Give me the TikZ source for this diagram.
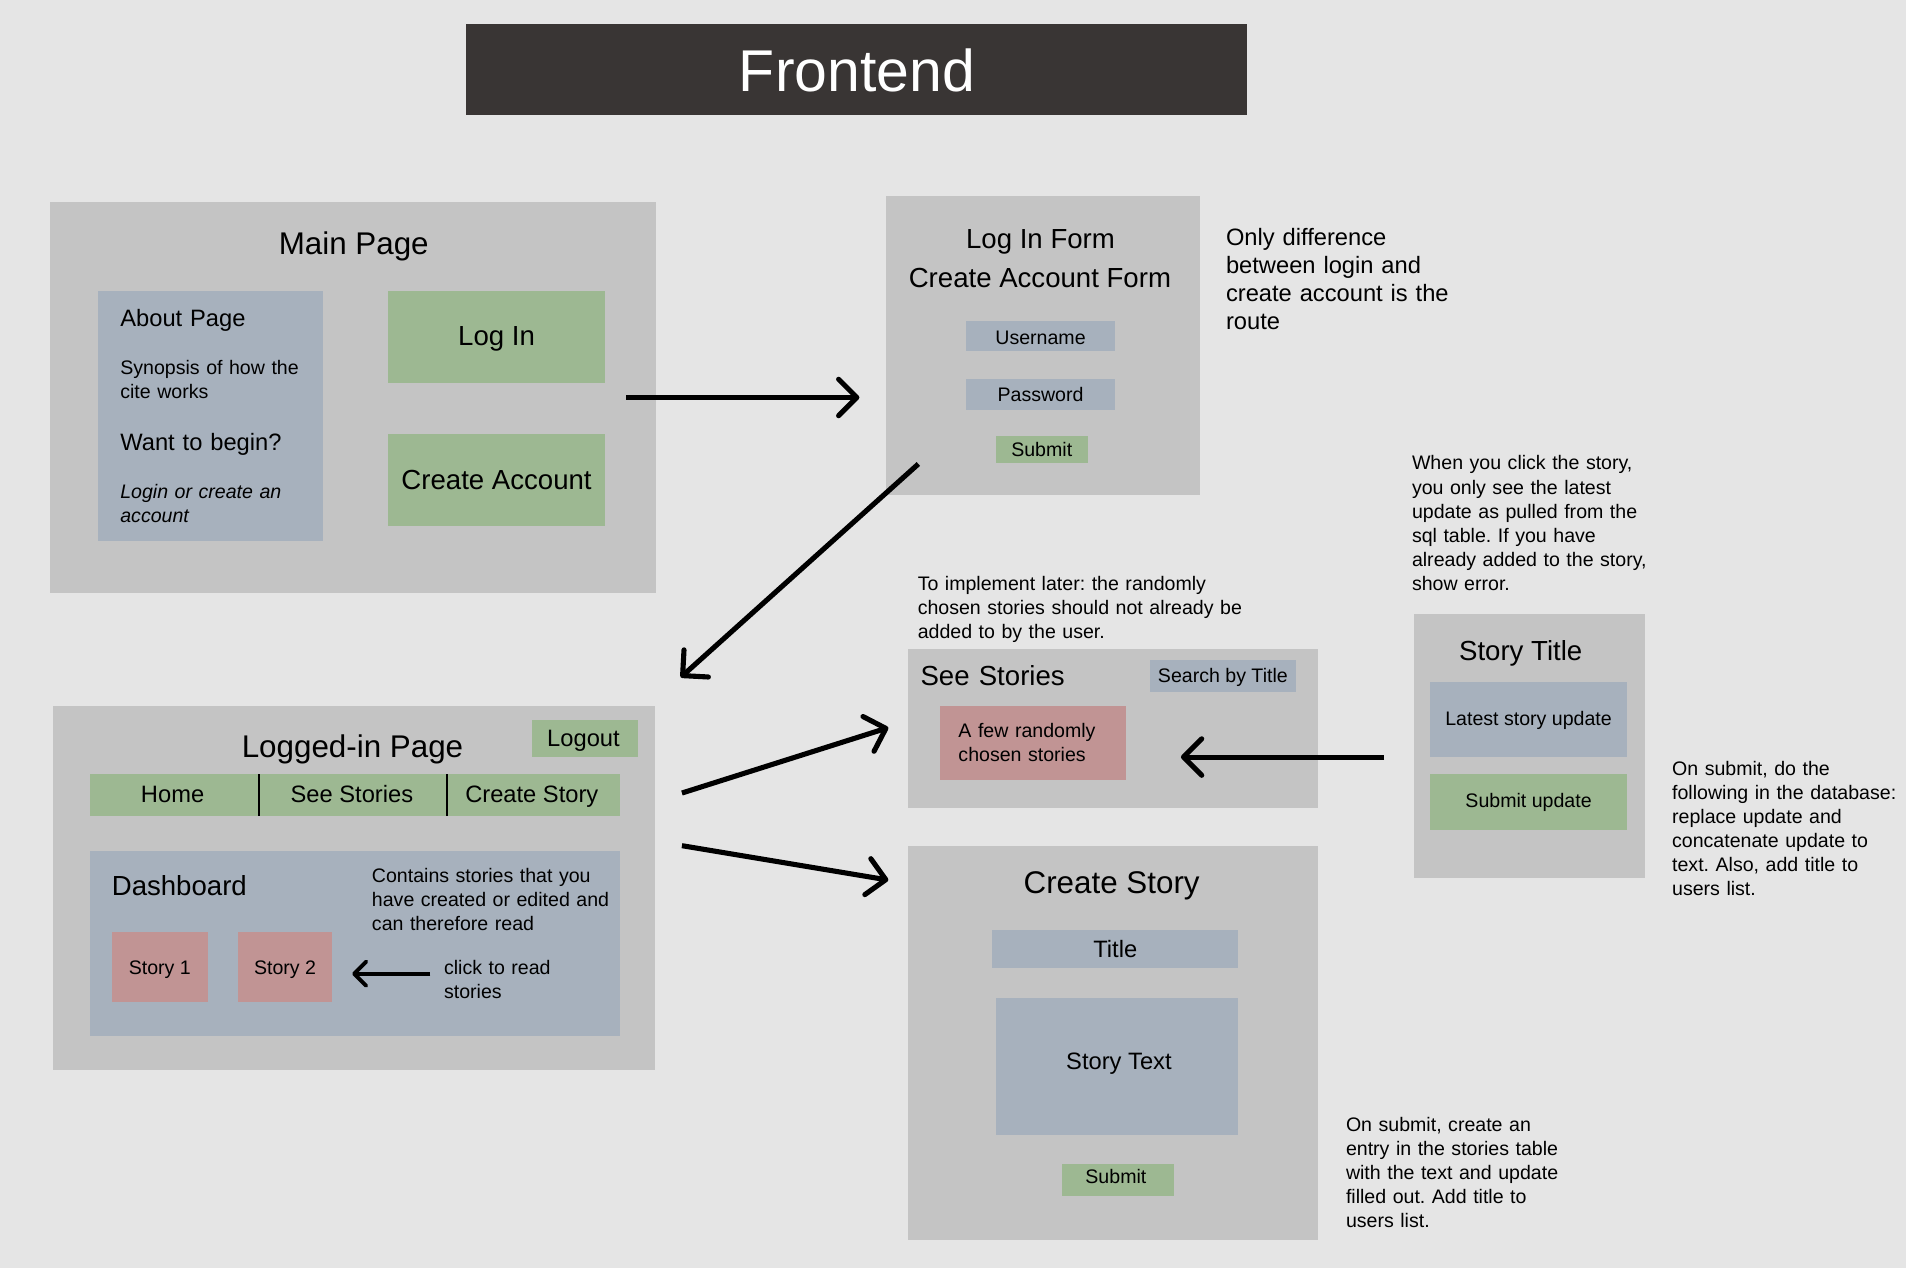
\documentclass[tikz,border=0pt]{standalone}
\usepackage{fontspec}
\setmainfont{Liberation Sans}
\usetikzlibrary{arrows.meta}
\frenchspacing
\definecolor{bg}{HTML}{E5E5E5}
\definecolor{panel}{HTML}{C4C4C4}
\definecolor{bluebox}{HTML}{A7B1BD}
\definecolor{greenbox}{HTML}{9DB892}
\definecolor{pinkbox}{HTML}{C19494}
\definecolor{darkbar}{HTML}{393534}
\newcommand\fSm{\fontsize{16.1}{19.8}\selectfont}
\newcommand\fMd{\fontsize{19.5}{22.9}\selectfont}
\newcommand\fLg{\fontsize{22.7}{32}\selectfont}
\newcommand\fTi{\fontsize{25.8}{30}\selectfont}
\newcommand\fHu{\fontsize{48.5}{56}\selectfont}
\begin{document}
\begin{tikzpicture}[x=1pt,y=-1pt,
  box/.style={inner sep=0pt, outer sep=0pt, anchor=north west},
  panelbox/.style={box, fill=panel},
  bluebx/.style={box, fill=bluebox},
  greenbx/.style={box, fill=greenbox},
  pinkbx/.style={box, fill=pinkbox},
  txt/.style={inner sep=0pt, outer sep=0pt, anchor=base, text=black},
  ltxt/.style={inner sep=0pt, outer sep=0pt, anchor=base west, text width=330pt, align=left, text=black},
  bigarrow/.style={line width=4.2pt, -{Straight Barb[length=15pt, width=30pt, round]}},
  smallarrow/.style={line width=3.2pt, -{Straight Barb[length=10pt, width=20pt, round]}},
  sep/.style={line width=1.5pt, black}
]
% background
\fill[bg] (0,0) rectangle (1568,1043.1);
\useasboundingbox (0,0) rectangle (1568,1043.1);

% title bar
\node[box, fill=darkbar, minimum width=643pt, minimum height=75pt] (titlebar) at (383,20) {};
\node[txt, text=white, font=\fHu] (titletext) at (705,75.4) {Frontend};

% Main page
\node[panelbox, minimum width=499pt, minimum height=322pt] (mainpage) at (41,166) {};
\node[txt, font=\fTi] (mainT) at (291,209) {Main Page};
\node[bluebx, minimum width=185pt, minimum height=206pt] (about) at (81,239) {};
\node[ltxt, font=\fMd] (aboutT) at (99,268.7) {About Page};
\node[ltxt, font=\fSm] (synop) at (99,307.9) {Synopsis of how the\\cite works};
\node[ltxt, font=\fMd] (want) at (99,370.2) {Want to begin?};
\node[ltxt, font=\fSm\itshape] (logor) at (99,410) {Login or create an\\account};
\node[greenbx, minimum width=179pt, minimum height=76pt] (loginbtn) at (319,239) {};
\node[txt, font=\fLg] (loginT) at (408.5,284.4) {Log In};
\node[greenbx, minimum width=179pt, minimum height=76pt] (createbtn) at (319,357) {};
\node[txt, font=\fLg] (createT) at (408.5,403) {Create Account};

% Log in form
\node[panelbox, minimum width=258pt, minimum height=246pt] (loginform) at (729,161) {};
\node[txt, font=\fLg] (lfT1) at (856,204.3) {Log In Form};
\node[txt, font=\fLg] (lfT2) at (855.5,236.4) {Create Account Form};
\node[bluebx, minimum width=122pt, minimum height=25pt] (userbox) at (795,264) {};
\node[txt, font=\fSm] (userT) at (856,283) {Username};
\node[bluebx, minimum width=122pt, minimum height=25pt] (passbox) at (795,312) {};
\node[txt, font=\fSm] (passT) at (856,330.4) {Password};
\node[greenbx, minimum width=76pt, minimum height=22pt] (lfsubmit) at (819,359) {};
\node[txt, font=\fSm] (lfsubT) at (857,375.2) {Submit};
\node[ltxt, font=\fMd] (note1) at (1008.6,202.1) {Only difference\\between login and\\create account is the\\route};

% Logged-in page
\node[panelbox, minimum width=495pt, minimum height=299pt] (loggedin) at (44,581) {};
\node[txt, font=\fTi] (loggedT) at (290,623.3) {Logged-in Page};
\node[greenbx, minimum width=87pt, minimum height=30pt] (logout) at (437.5,592.5) {};
\node[txt, font=\fMd] (logoutT) at (480,614.3) {Logout};
\node[greenbx, minimum width=139pt, minimum height=34pt] (navhome) at (74,637) {};
\node[greenbx, minimum width=154.5pt, minimum height=34pt] (navsee) at (213,637) {};
\node[greenbx, minimum width=142.5pt, minimum height=34pt] (navcreate) at (367.5,637) {};
\draw[sep] (navhome.north east) -- (navhome.south east);
\draw[sep] (navsee.north east) -- (navsee.south east);
\node[txt, font=\fMd] (homeT) at (142,660.3) {Home};
\node[txt, font=\fMd] (seeT) at (289.5,660.3) {See Stories};
\node[txt, font=\fMd] (crT) at (437.5,660.3) {Create Story};
\node[bluebx, minimum width=436pt, minimum height=152pt] (dash) at (74,700) {};
\node[ltxt, font=\fLg] (dashT) at (92,736.8) {Dashboard};
\node[ltxt, font=\fSm] (dashnote) at (306,725.9) {Contains stories that you\\have created or edited and\\can therefore read};
\node[pinkbx, minimum width=79pt, minimum height=57pt] (story1) at (92,767) {};
\node[txt, font=\fSm] (s1T) at (131.5,801.5) {Story 1};
\node[pinkbx, minimum width=77pt, minimum height=57pt] (story2) at (196,767) {};
\node[txt, font=\fSm] (s2T) at (234.5,801.5) {Story 2};
\node[ltxt, font=\fSm] (clicknote) at (365.3,801.3) {click to read\\stories};

% See stories
\node[ltxt, font=\fSm] (note2) at (755,485.9) {To implement later: the randomly\\chosen stories should not already be\\added to by the user.};
\node[panelbox, minimum width=337pt, minimum height=131pt] (seestories) at (747,533.5) {};
\node[ltxt, font=\fLg] (seeT2) at (757.3,564.1) {See Stories};
\node[bluebx, minimum width=120pt, minimum height=26pt] (search) at (946,543) {};
\node[txt, font=\fSm] (searchT) at (1006,561.3) {Search by Title};
\node[pinkbx, minimum width=153pt, minimum height=60.5pt] (random) at (773.5,581) {};
\node[ltxt, font=\fSm] (randomT) at (788.5,606.6) {A few randomly\\chosen stories};

% Story title
\node[ltxt, font=\fSm] (note3) at (1161.6,386.6) {When you click the story,\\you only see the latest\\update as pulled from the\\sql table. If you have\\already added to the story,\\show error.};
\node[panelbox, minimum width=190.5pt, minimum height=217pt] (storytitle) at (1163,505) {};
\node[txt, font=\fLg] (stT) at (1251,543) {Story Title};
\node[bluebx, minimum width=162pt, minimum height=62pt] (latest) at (1176.5,561) {};
\node[txt, font=\fSm] (latestT) at (1257.5,597) {Latest story update};
\node[greenbx, minimum width=162pt, minimum height=46pt] (subupd) at (1176.5,637) {};
\node[txt, font=\fSm] (subupdT) at (1257.5,664.4) {Submit update};
\node[ltxt, font=\fSm] (note4) at (1375.6,637.6) {On submit, do the\\following in the database:\\replace update and\\concatenate update to\\text. Also, add title to\\users list.};

% Create story
\node[panelbox, minimum width=337pt, minimum height=324pt] (createstory) at (747,696) {};
\node[txt, font=\fTi] (csT) at (914.5,734.9) {Create Story};
\node[bluebx, minimum width=202.5pt, minimum height=31pt] (titlebox) at (816,765) {};
\node[txt, font=\fMd] (titleT) at (917.5,787.8) {Title};
\node[bluebx, minimum width=199pt, minimum height=113pt] (textbox) at (819.5,821) {};
\node[txt, font=\fMd] (textT) at (920.5,879.7) {Story Text};
\node[greenbx, minimum width=92pt, minimum height=26pt] (cssubmit) at (873.5,957.6) {};
\node[txt, font=\fSm] (cssubT) at (918,974) {Submit};
\node[ltxt, font=\fSm] (note5) at (1107.3,931) {On submit, create an\\entry in the stories table\\with the text and update\\filled out. Add title to\\users list.};

% connectors
\coordinate (a1s) at (515,327);   \coordinate (a1e) at (707,327);
\coordinate (a2s) at (755.5,381.7); \coordinate (a2e) at (560,557.2);
\coordinate (a3s) at (561,652.4); \coordinate (a3e) at (730.8,598.6);
\coordinate (a4s) at (561,695.7); \coordinate (a4e) at (730.8,724);
\coordinate (a5s) at (1138.6,622.8); \coordinate (a5e) at (971.5,622.8);
\coordinate (a6s) at (354,801); \coordinate (a6e) at (289.7,801);
\draw[bigarrow] (a1s) -- (a1e);
\draw[bigarrow] (a2s) -- (a2e);
\draw[bigarrow] (a3s) -- (a3e);
\draw[bigarrow] (a4s) -- (a4e);
\draw[bigarrow] (a5s) -- (a5e);
\draw[smallarrow] (a6s) -- (a6e);
\end{tikzpicture}
\end{document}
